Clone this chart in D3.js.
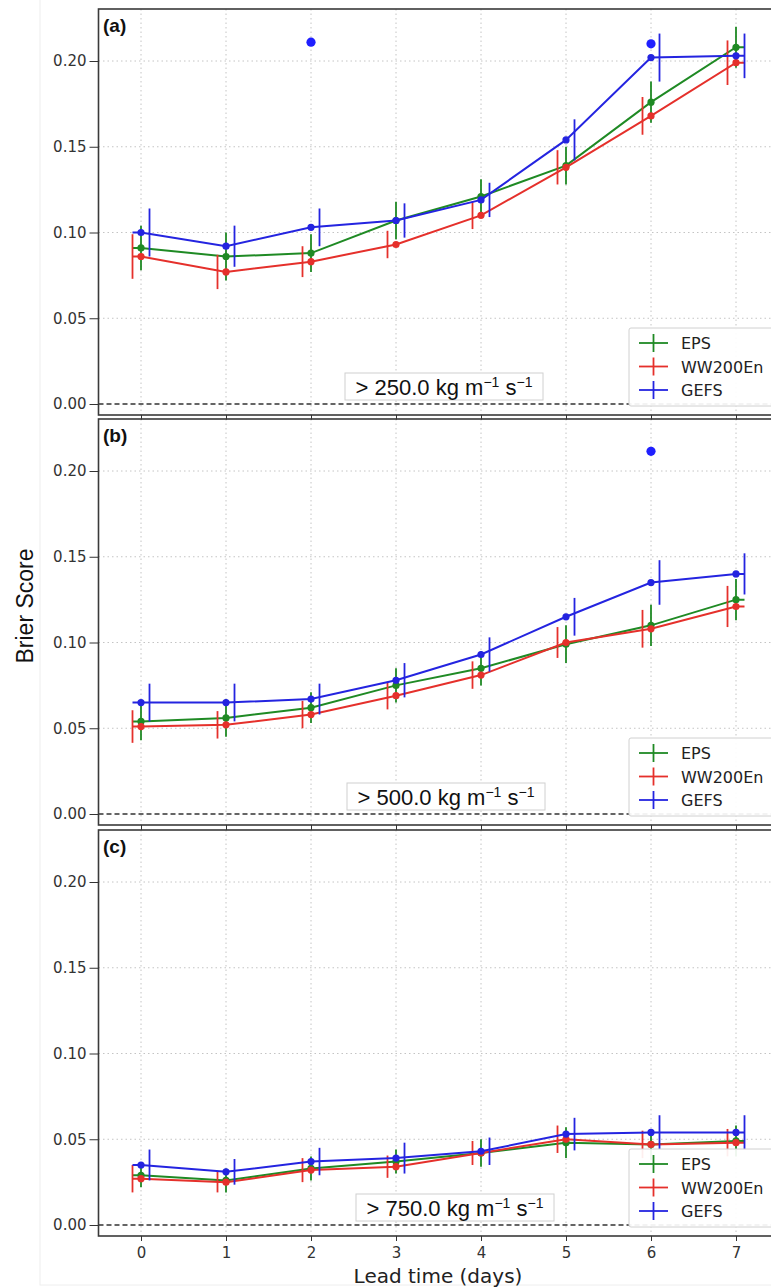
<!DOCTYPE html>
<html>
<head>
<meta charset="utf-8">
<script src="https://cdn.jsdelivr.net/npm/d3@7"></script>
<style>
  body { margin: 0; background: #fff; }
  svg { display: block; }
</style>
</head>
<body>
<svg id="chart" width="771" height="1287"></svg>
<script>
// lead times (days)
const days = [0, 1, 2, 3, 4, 5, 6, 7]
const yTicks = [0, 0.05, 0.1, 0.15, 0.2]
const seriesNames = ['EPS', 'WW200En', 'GEFS']
const panelLetters = ['(a)', '(b)', '(c)']
const thresholds = ['250.0', '500.0', '750.0']

// panel (a) > 250
const epsA = [0.091, 0.086, 0.088, 0.107, 0.121, 0.139, 0.176, 0.208]
const epsAErr = [0.013, 0.014, 0.011, 0.011, 0.010, 0.011, 0.012, 0.012]
const wwA = [0.086, 0.077, 0.083, 0.093, 0.110, 0.138, 0.168, 0.199]
const wwAErr = [0.013, 0.010, 0.009, 0.008, 0.008, 0.010, 0.011, 0.013]
const gefsA = [0.100, 0.092, 0.103, 0.107, 0.119, 0.154, 0.202, 0.203]
const gefsAErr = [0.014, 0.012, 0.011, 0.010, 0.010, 0.012, 0.014, 0.013]
const outA = [[2, 0.211], [6, 0.210]]

// panel (b) > 500
const epsB = [0.054, 0.056, 0.062, 0.075, 0.085, 0.099, 0.110, 0.125]
const epsBErr = [0.011, 0.011, 0.009, 0.010, 0.010, 0.011, 0.012, 0.012]
const wwB = [0.051, 0.052, 0.058, 0.069, 0.081, 0.100, 0.108, 0.121]
const wwBErr = [0.0095, 0.008, 0.008, 0.008, 0.008, 0.009, 0.011, 0.012]
const gefsB = [0.065, 0.065, 0.067, 0.078, 0.093, 0.115, 0.135, 0.140]
const gefsBErr = [0.011, 0.011, 0.009, 0.010, 0.010, 0.011, 0.013, 0.012]
const outB = [[6, 0.2115]]

// panel (c) > 750
const epsC = [0.029, 0.026, 0.033, 0.037, 0.042, 0.048, 0.047, 0.049]
const epsCErr = [0.007, 0.007, 0.007, 0.007, 0.008, 0.009, 0.009, 0.009]
const wwC = [0.027, 0.025, 0.032, 0.034, 0.042, 0.050, 0.047, 0.048]
const wwCErr = [0.008, 0.006, 0.007, 0.0065, 0.007, 0.008, 0.008, 0.008]
const gefsC = [0.035, 0.031, 0.037, 0.039, 0.043, 0.053, 0.054, 0.054]
const gefsCErr = [0.009, 0.0075, 0.008, 0.009, 0.008, 0.0095, 0.010, 0.010]
const outC = []

const colors = ['#1f8a24', '#e5302b', '#2424e0']
const offsets = [0, -0.1, 0.1]

const panels = [
    { vals: [epsA, wwA, gefsA], errs: [epsAErr, wwAErr, gefsAErr], out: outA, top: 9, boxX: 444 },
    { vals: [epsB, wwB, gefsB], errs: [epsBErr, wwBErr, gefsBErr], out: outB, top: 419, boxX: 446 },
    { vals: [epsC, wwC, gefsC], errs: [epsCErr, wwCErr, gefsCErr], out: outC, top: 830, boxX: 455 },
]

const svg = d3.select('#chart')
const panelH = 406

const x = d3.scaleLinear().domain([-0.5, 7.5]).range([98.5, 778.5])

// faint outer border of the figure
svg.append('rect')
    .attr('x', 40).attr('y', -2).attr('width', 800).attr('height', 1287)
    .attr('fill', 'none').attr('stroke', '#eeeeee')

panels.forEach((p, pi) => {
    const y = d3.scaleLinear()
        .domain([0, 0.2])
        .range([p.top + 395, p.top + 52])
    const bottom = p.top + panelH
    const g = svg.append('g')

    // grid
    g.selectAll('.vg').data(days).enter().append('line')
        .attr('x1', (d) => x(d)).attr('x2', (d) => x(d))
        .attr('y1', p.top).attr('y2', bottom)
        .attr('stroke', '#c4c4c4').attr('stroke-width', 1)
        .attr('stroke-dasharray', '1.5,3')
    g.selectAll('.hg').data(yTicks.slice(1)).enter().append('line')
        .attr('x1', x(-0.5)).attr('x2', x(7.5))
        .attr('y1', (d) => y(d)).attr('y2', (d) => y(d))
        .attr('stroke', '#c4c4c4').attr('stroke-width', 1)
        .attr('stroke-dasharray', '1.5,3')

    // zero line
    g.append('line')
        .attr('x1', x(-0.5)).attr('x2', x(7.5))
        .attr('y1', y(0)).attr('y2', y(0))
        .attr('stroke', '#333').attr('stroke-width', 1.4)
        .attr('stroke-dasharray', '5,3')

    const line = d3.line().x((d) => x(d[0])).y((d) => y(d[1]))

    // series
    p.vals.forEach((vals, si) => {
        const c = colors[si]
        const off = offsets[si]
        const errs = p.errs[si]
        // line through the markers, with short stubs out to the shifted error bars at both ends
        const pts = [[days[0] - 0.1, vals[0]]]
            .concat(days.map((d, i) => [d, vals[i]]))
            .concat([[days[days.length - 1] + 0.1, vals[vals.length - 1]]])

        g.append('path').datum(pts).attr('d', line)
            .attr('fill', 'none').attr('stroke', c).attr('stroke-width', 2)

        g.selectAll('.eb' + si).data(days).enter().append('line')
            .attr('x1', (d) => x(d + off)).attr('x2', (d) => x(d + off))
            .attr('y1', (d, i) => y(vals[i] - errs[i]))
            .attr('y2', (d, i) => y(vals[i] + errs[i]))
            .attr('stroke', c).attr('stroke-width', 1.8)

        g.selectAll('.mk' + si).data(days).enter().append('circle')
            .attr('cx', (d) => x(d)).attr('cy', (d, i) => y(vals[i]))
            .attr('r', 3.6).attr('fill', c)
    })

    // outlier dots
    g.selectAll('.out').data(p.out).enter().append('circle')
        .attr('cx', (d) => x(d[0])).attr('cy', (d) => y(d[1]))
        .attr('r', 4.6).attr('fill', '#1f1fff')

    // frame
    g.append('rect')
        .attr('x', x(-0.5)).attr('y', p.top)
        .attr('width', x(7.5) - x(-0.5)).attr('height', panelH)
        .attr('fill', 'none').attr('stroke', '#3a3a3a').attr('stroke-width', 1.6)

    // y axis
    const ya = g.append('g')
        .attr('transform', 'translate(' + x(-0.5) + ',0)')
        .call(d3.axisLeft(y).tickValues(yTicks).tickFormat(d3.format('.2f')).tickSize(9).tickPadding(3))
    ya.select('.domain').remove()
    ya.selectAll('line').attr('stroke', '#333')
    ya.selectAll('text').attr('font-family', 'DejaVu Sans').attr('font-size', 15).attr('fill', '#333')

    // x axis
    const xa = g.append('g')
        .attr('transform', 'translate(0,' + bottom + ')')
        .call(d3.axisBottom(x).tickValues(days).tickSize(5).tickPadding(6)
            .tickFormat(pi === 2 ? d3.format('d') : ''))
    xa.select('.domain').remove()
    xa.selectAll('line').attr('stroke', '#333')
    xa.selectAll('text').attr('font-family', 'DejaVu Sans').attr('font-size', 15).attr('fill', '#333')

    // panel letter
    g.append('text')
        .attr('x', 103).attr('y', p.top + 23)
        .attr('font-family', 'Liberation Sans').attr('font-weight', 'bold')
        .attr('font-size', 19).attr('fill', '#111')
        .text(panelLetters[pi])

    // threshold box
    const tb = g.append('g')
    tb.append('rect')
        .attr('x', p.boxX - 99).attr('y', p.top + 364)
        .attr('width', 198).attr('height', 27)
        .attr('fill', '#fff').attr('stroke', '#d0d0d0').attr('stroke-width', 1)
    const t = tb.append('text')
        .attr('x', p.boxX).attr('y', p.top + 386)
        .attr('text-anchor', 'middle')
        .attr('font-family', 'Liberation Sans').attr('font-size', 22).attr('fill', '#111')
    t.append('tspan').text('> ' + thresholds[pi] + ' kg m')
    t.append('tspan').attr('dy', -8).attr('font-size', 14).text('\u22121')
    t.append('tspan').attr('dy', 8).text(' s')
    t.append('tspan').attr('dy', -8).attr('font-size', 14).text('\u22121')

    // legend
    const lg = g.append('g').attr('transform', 'translate(629,' + (p.top + 319) + ')')
    lg.append('rect')
        .attr('width', 160).attr('height', 78)
        .attr('fill', '#fff').attr('fill-opacity', 0.92)
        .attr('stroke', '#d0d0d0').attr('stroke-width', 1).attr('rx', 2)
    seriesNames.forEach((name, si) => {
        const ry = 15 + si * 23.5
        lg.append('line').attr('x1', 10).attr('x2', 39).attr('y1', ry).attr('y2', ry)
            .attr('stroke', colors[si]).attr('stroke-width', 1.8)
        lg.append('line').attr('x1', 24.5).attr('x2', 24.5).attr('y1', ry - 9).attr('y2', ry + 9)
            .attr('stroke', colors[si]).attr('stroke-width', 1.8)
        lg.append('text').attr('x', 52).attr('y', ry + 6)
            .attr('font-family', 'DejaVu Sans').attr('font-size', 16).attr('fill', '#222')
            .text(name)
    })
})

// axis titles
svg.append('text')
    .attr('transform', 'translate(33,606) rotate(-90)')
    .attr('text-anchor', 'middle')
    .attr('font-family', 'Liberation Sans').attr('font-size', 23)
    .attr('fill', '#111')
    .text('Brier Score')

svg.append('text')
    .attr('x', 438).attr('y', 1283)
    .attr('text-anchor', 'middle')
    .attr('font-family', 'DejaVu Sans').attr('font-size', 20)
    .attr('fill', '#222')
    .text('Lead time (days)')
</script>
</body>
</html>
